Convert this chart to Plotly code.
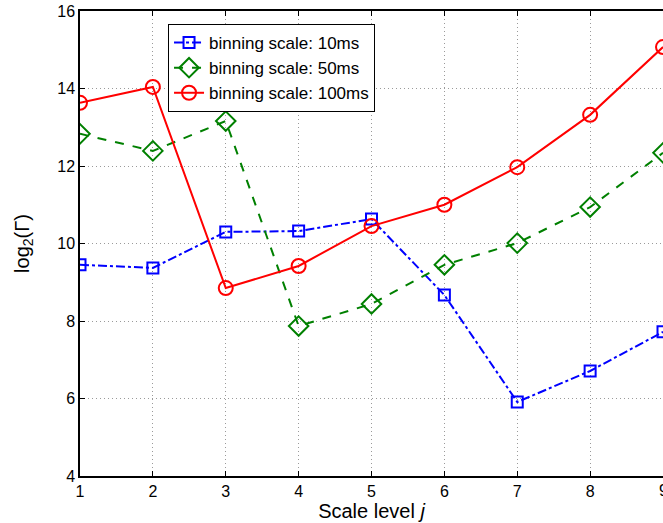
import plotly.graph_objects as go

scale_levels = [1, 2, 3, 4, 5, 6, 7, 8, 9]
bin_10ms = [9.45, 9.37, 10.30, 10.32, 10.63, 8.67, 5.91, 6.71, 7.72]
bin_50ms = [12.83, 12.39, 13.16, 7.87, 8.44, 9.45, 10.01, 10.94, 12.34]
bin_100ms = [13.63, 14.04, 8.85, 9.42, 10.45, 11.00, 11.97, 13.32, 15.07]
x_ticks = [1, 2, 3, 4, 5, 6, 7, 8, 9]
y_ticks = [4, 6, 8, 10, 12, 14, 16]

fig = go.Figure()
fig.add_trace(go.Scatter(
    x=scale_levels, y=bin_10ms, name="binning scale: 10ms", mode="lines+markers",
    line=dict(color="#0000ff", width=2, dash="dashdot"),
    marker=dict(symbol="square-open", size=11, color="#0000ff", line=dict(width=2, color="#0000ff")),
))
fig.add_trace(go.Scatter(
    x=scale_levels, y=bin_50ms, name="binning scale: 50ms", mode="lines+markers",
    line=dict(color="#008000", width=2, dash="dash"),
    marker=dict(symbol="diamond-open", size=15, color="#008000", line=dict(width=2, color="#008000")),
))
fig.add_trace(go.Scatter(
    x=scale_levels, y=bin_100ms, name="binning scale: 100ms", mode="lines+markers",
    line=dict(color="#ff0000", width=2),
    marker=dict(symbol="circle-open", size=14, color="#ff0000", line=dict(width=2, color="#ff0000")),
))

grid_style = dict(showgrid=True, gridcolor="#9a9a9a", griddash="1px,3px", gridwidth=1)

# last tick label is clipped at the right edge in the reference; show it as a text label
fig.add_annotation(
    x=x_ticks[-1], xref="x", y=0, yref="paper", yanchor="top", yshift=-4,
    text=str(x_ticks[-1]), showarrow=False, font=dict(size=16),
)

fig.update_layout(
    width=663, height=523,
    margin=dict(l=80, r=0, t=11, b=47),
    paper_bgcolor="white", plot_bgcolor="white",
    font=dict(family="Liberation Sans, Arial, sans-serif", size=16, color="black"),
    showlegend=True,
    legend=dict(
        x=0.151, y=0.972, xanchor="left", yanchor="top",
        bgcolor="white", bordercolor="black", borderwidth=1,
        font=dict(size=17), tracegroupgap=0, itemwidth=30,
    ),
    xaxis=dict(
        range=[1, 9], tickvals=x_ticks, ticktext=[str(v) for v in x_ticks],
        showline=True, linecolor="black", linewidth=1.5, mirror="ticks",
        ticks="inside", ticklen=5, tickcolor="black",
        zeroline=False, automargin=False,
        title=dict(text="Scale level <i>j</i>", font=dict(size=20), standoff=0),
        **grid_style,
    ),
    yaxis=dict(
        range=[4, 16], tickvals=y_ticks, ticktext=[str(v) for v in y_ticks],
        showline=True, linecolor="black", linewidth=1.5, mirror=False,
        ticks="inside", ticklen=5, tickcolor="black",
        zeroline=False, automargin=False,
        title=dict(text="log<sub>2</sub>(Γ)", font=dict(size=20), standoff=22),
        **grid_style,
    ),
)

fig.write_html(
    "out.html",
    config={"displayModeBar": False},
    post_script="document.body.style.margin='0';document.body.style.overflow='hidden';",
)
